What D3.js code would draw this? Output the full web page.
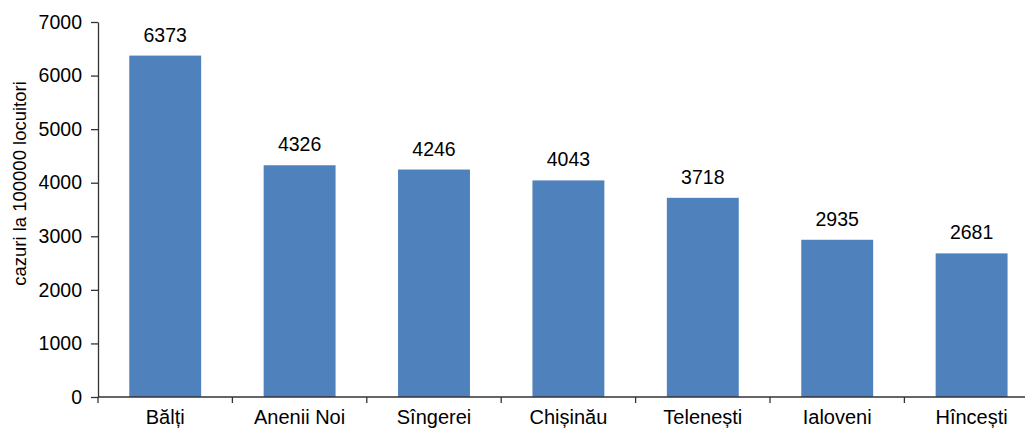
<!DOCTYPE html>
<html>
<head>
<meta charset="utf-8">
<script src="https://cdn.jsdelivr.net/npm/d3@7"></script>
<style>
  body { margin: 0; background: #fff; }
  svg text { font-family: "Liberation Sans", Arial, sans-serif; fill: #000; }
  .axis path, .axis line { stroke: #333; stroke-width: 1.3; }
</style>
</head>
<body>
<svg id="chart"></svg>
<script>
// data
const categories = ["Bălți", "Anenii Noi", "Sîngerei", "Chișinău", "Telenești", "Ialoveni", "Hîncești"];
const values = [6373, 4326, 4246, 4043, 3718, 2935, 2681];
const yTicks = [0, 1000, 2000, 3000, 4000, 5000, 6000, 7000];
const yTitle = "cazuri la 100000 locuitori";

const config = {
    width: 1025,
    height: 430,
    margin: {top: 22, left: 98, bottom: 33},
    step: 134.4,
    barRatio: 0.535
};

const svg = d3.select('#chart')
    .attr('width', config.width)
    .attr('height', config.height);

const y0 = config.height - config.margin.bottom;

// x: band scale with no padding so band edges give the category tick positions
const xScale = d3.scaleBand()
    .domain(categories)
    .range([config.margin.left, config.margin.left + config.step * categories.length])
    .padding(0);

const yScale = d3.scaleLinear()
    .domain([0, 7000])
    .range([y0, config.margin.top]);

const barW = xScale.bandwidth() * config.barRatio;

// bars
svg.selectAll('rect.bar')
    .data(values)
  .join('rect')
    .attr('class', 'bar')
    .attr('x', (d, i) => xScale(categories[i]) + (xScale.bandwidth() - barW) / 2)
    .attr('y', d => yScale(d))
    .attr('width', barW)
    .attr('height', d => y0 - yScale(d))
    .attr('fill', '#4F81BD');

// value labels
svg.selectAll('text.val')
    .data(values)
  .join('text')
    .attr('class', 'val')
    .attr('x', (d, i) => xScale(categories[i]) + xScale.bandwidth() / 2)
    .attr('y', d => yScale(d) - 14)
    .attr('text-anchor', 'middle')
    .style('font-size', '19.5px')
    .text(d => d);

// y axis
const yAxis = svg.append('g')
    .attr('class', 'axis y-axis')
    .attr('transform', `translate(${config.margin.left},0)`)
    .call(d3.axisLeft(yScale).tickValues(yTicks).tickFormat(d3.format('d'))
        .tickSize(7).tickSizeOuter(0).tickPadding(9));
yAxis.selectAll('text').style('font-size', '19.5px');

// x axis: line + ticks at band edges
const xAxis = svg.append('g')
    .attr('class', 'axis x-axis')
    .attr('transform', `translate(0,${y0})`);

xAxis.append('line')
    .attr('x1', config.margin.left)
    .attr('x2', xScale.range()[1])
    .attr('y1', 0).attr('y2', 0);

const edges = categories.map(c => xScale(c)).concat([xScale.range()[1]]);
xAxis.selectAll('line.tick')
    .data(edges)
  .join('line')
    .attr('class', 'tick')
    .attr('x1', d => d).attr('x2', d => d)
    .attr('y1', 0).attr('y2', 6);

// keep the labels just inside the bottom edge
xAxis.selectAll('text.cat')
    .data(categories)
  .join('text')
    .attr('class', 'cat')
    .attr('x', d => xScale(d) + xScale.bandwidth() / 2)
    .attr('y', 27)
    .attr('text-anchor', 'middle')
    .style('font-size', '20px')
    .text(d => d);

// y title
svg.append('text')
    .attr('transform', `translate(26,${(yScale(0) + yScale(7000)) / 2 - 26}) rotate(-90)`)
    .attr('text-anchor', 'middle')
    .style('font-size', '18.5px')
    .text(yTitle);
</script>
</body>
</html>
